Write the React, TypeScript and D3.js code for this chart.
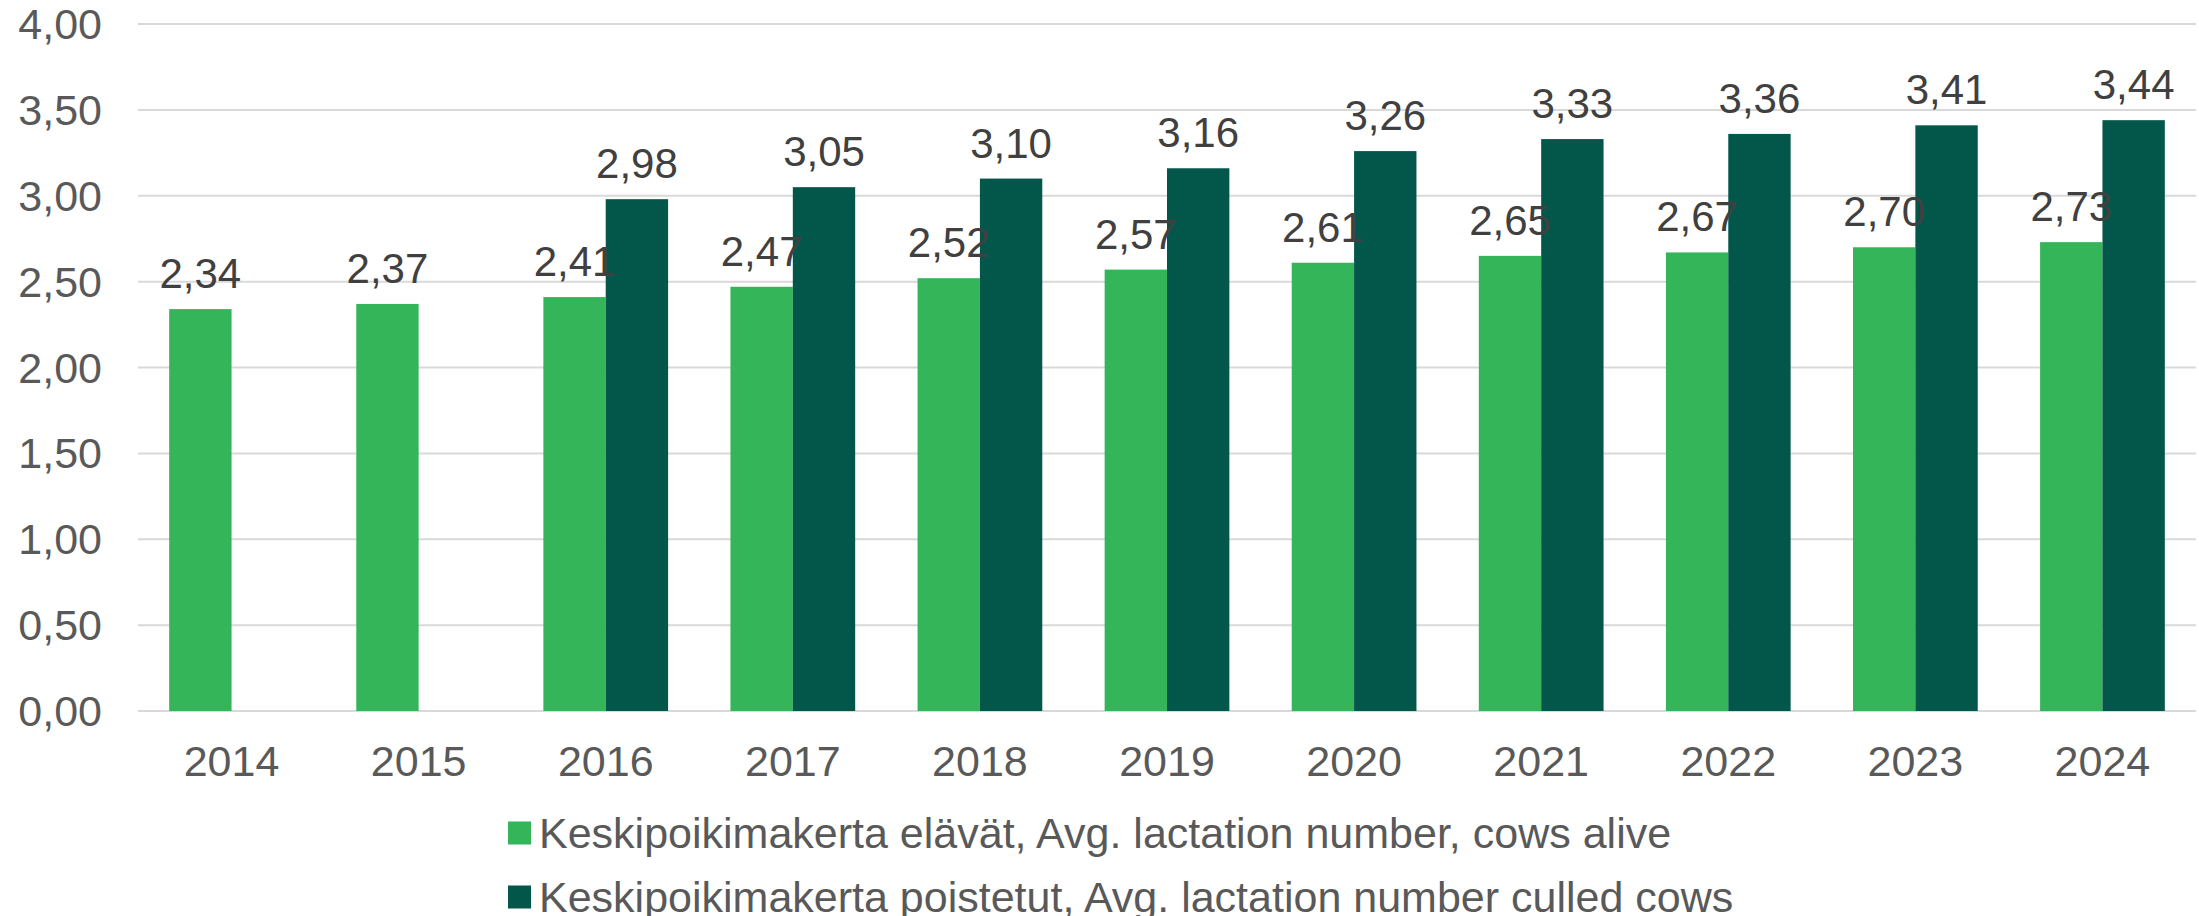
import React, { useEffect, useRef } from 'react';
import * as d3 from 'd3';

const years = ['2014', '2015', '2016', '2017', '2018', '2019', '2020', '2021', '2022', '2023', '2024'];
const aliveValues = [2.34, 2.37, 2.41, 2.47, 2.52, 2.57, 2.61, 2.65, 2.67, 2.7, 2.73];
const culledValues = [null, null, 2.98, 3.05, 3.1, 3.16, 3.26, 3.33, 3.36, 3.41, 3.44];
const yTicks = [0, 0.5, 1, 1.5, 2, 2.5, 3, 3.5, 4];
const seriesNames = [
  'Keskipoikimakerta elävät, Avg. lactation number, cows alive',
  'Keskipoikimakerta poistetut, Avg. lactation number culled cows',
];
const colours = ['#35B55A', '#02564A'];

const W = 2199;
const H = 916;

const fmt = (v: number) => v.toFixed(2).replace('.', ',');

const App = () => {
  const svgRef = useRef(null);

  useEffect(() => {
    const svg = d3.select(svgRef.current);
    svg.selectAll('*').remove();

    const left = 138, right = 2196, top = 24, bottom = 711;

    const x0 = d3.scaleBand().domain(years).range([left, right]).padding(0);
    const x1 = d3.scaleBand().domain(['alive', 'culled']).range([0, x0.bandwidth()])
      .paddingInner(0).paddingOuter(0.5);
    const y = d3.scaleLinear().domain([0, 4]).range([bottom, top]);

    // gridlines
    svg.append('g')
      .selectAll('line')
      .data(yTicks)
      .enter().append('line')
      .attr('x1', left).attr('x2', right)
      .attr('y1', d => y(d)).attr('y2', d => y(d))
      .attr('stroke', '#D9D9D9')
      .attr('stroke-width', 2);

    // y labels
    svg.append('g')
      .selectAll('text')
      .data(yTicks)
      .enter().append('text')
      .attr('x', 102)
      .attr('y', d => y(d) + 15)
      .attr('text-anchor', 'end')
      .attr('font-size', 43)
      .attr('fill', '#595959')
      .text(d => fmt(d));

    // x labels
    svg.append('g')
      .selectAll('text')
      .data(years)
      .enter().append('text')
      .attr('x', d => (x0(d) as number) + x0.bandwidth() / 2)
      .attr('y', 776)
      .attr('text-anchor', 'middle')
      .attr('font-size', 43)
      .attr('fill', '#595959')
      .text(d => d);

    const series = [
      { key: 'alive', values: aliveValues, colour: colours[0] },
      { key: 'culled', values: culledValues, colour: colours[1] },
    ];

    series.forEach(s => {
      const pts = years
        .map((yr, i) => ({ yr, v: s.values[i] }))
        .filter(p => p.v !== null) as { yr: string; v: number }[];
      svg.append('g')
        .selectAll('rect')
        .data(pts)
        .enter().append('rect')
        .attr('x', d => (x0(d.yr) as number) + (x1(s.key) as number))
        .attr('y', d => y(d.v))
        .attr('width', x1.bandwidth())
        .attr('height', d => y(0) - y(d.v))
        .attr('fill', s.colour);
    });

    // data labels on top of both series
    series.forEach(s => {
      const pts = years
        .map((yr, i) => ({ yr, v: s.values[i] }))
        .filter(p => p.v !== null) as { yr: string; v: number }[];
      svg.append('g')
        .selectAll('text')
        .data(pts)
        .enter().append('text')
        .attr('x', d => (x0(d.yr) as number) + (x1(s.key) as number) + x1.bandwidth() / 2)
        .attr('y', d => y(d.v) - 21)
        .attr('text-anchor', 'middle')
        .attr('font-size', 42)
        .attr('fill', '#404040')
        .text(d => fmt(d.v));
    });

    // legend
    const legend = svg.append('g')
      .selectAll('g')
      .data(seriesNames)
      .enter().append('g')
      .attr('transform', (d, i) => `translate(508,${833 + i * 64})`);
    legend.append('rect')
      .attr('x', 0).attr('y', -11.5)
      .attr('width', 23).attr('height', 23)
      .attr('fill', (d, i) => colours[i]);
    legend.append('text')
      .attr('x', 31)
      .attr('y', 15)
      .attr('font-size', 43)
      .attr('fill', '#595959')
      .text(d => d);
  }, []);

  return (
    <svg
      ref={svgRef}
      width={W}
      height={H}
      style={{ position: 'absolute', left: 0, top: 0, background: '#fff', fontFamily: '"Liberation Sans", Arial, sans-serif' }}
    />
  );
};

export default App;
